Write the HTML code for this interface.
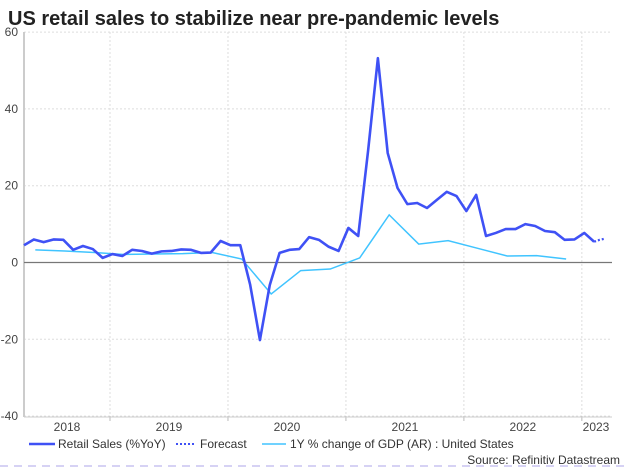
<!DOCTYPE html>
<html><head><meta charset="utf-8"><style>
body{margin:0;background:#fff;font-family:"Liberation Sans",Arial,sans-serif}
svg{display:block}
</style></head><body>
<svg width="624" height="467" viewBox="0 0 624 467">
<text x="8" y="25" font-size="20" font-weight="bold" fill="#222">US retail sales to stabilize near pre-pandemic levels</text>
<g id="grid"></g>
<g id="axes"></g>
<g id="series"></g>
<g>
<line x1="29" y1="444" x2="55" y2="444" stroke="#3f51f5" stroke-width="2.5"/>
<text x="58" y="448" font-size="12" fill="#333">Retail Sales (%YoY)</text>
<line x1="176" y1="444" x2="196" y2="444" stroke="#3f51f5" stroke-width="2" stroke-dasharray="2,2"/>
<text x="200" y="448" font-size="12" fill="#333">Forecast</text>
<line x1="262" y1="444" x2="286" y2="444" stroke="#40c4ff" stroke-width="1.5"/>
<text x="290" y="448" font-size="12" fill="#333">1Y % change of GDP (AR) : United States</text>
</g>
<text x="620" y="464" font-size="12" fill="#333" text-anchor="end">Source: Refinitiv Datastream</text>
<line x1="0" y1="466" x2="624" y2="466" stroke="#c8c3f0" stroke-width="1.5" stroke-dasharray="8,6"/>
</svg>
<script>
const retail=[4.5,6.0,5.3,6.0,5.9,3.3,4.3,3.5,1.2,2.2,1.7,3.3,3.0,2.3,2.9,3.0,3.4,3.3,2.5,2.6,5.6,4.5,4.5,-5.7,-20.2,-5.9,2.5,3.3,3.5,6.6,5.9,4.1,3.0,9.0,6.9,29,53.2,28.5,19.4,15.2,15.5,14.2,16.3,18.4,17.3,13.4,17.6,6.9,7.7,8.7,8.7,10.0,9.5,8.2,7.9,5.9,6.0,7.7,5.4];
const forecast=[5.4,5.9,6.2];
const gdp=[3.3,3.0,2.6,2.1,2.2,2.3,2.6,0.9,-8.2,-2.1,-1.7,1.2,12.4,4.8,5.7,3.7,1.7,1.8,0.9];
const yTicks=[60,40,20,0,-20,-40];
const years=["2018","2019","2020","2021","2022","2023"];
const NS="http://www.w3.org/2000/svg";
function x(i){return 24+i*9.83;}
function y(v){return 262.5-v*3.84;}
function mk(tag,attrs,parent){const e=document.createElementNS(NS,tag);for(const k in attrs)e.setAttribute(k,attrs[k]);parent.appendChild(e);return e;}
const grid=document.getElementById('grid'),axes=document.getElementById('axes'),ser=document.getElementById('series');
yTicks.forEach(t=>{
 if(t!==0){const l=mk('line',{x1:24,x2:612,y1:y(t),y2:y(t),stroke:'#ddd','stroke-dasharray':'2,2'},grid);
 
 }
 const tx=mk('text',{x:18,y:y(t)+4,'font-size':12,fill:'#444','text-anchor':'end'},axes);tx.textContent=t;
 
 
});
years.forEach((yr,k)=>{
 const start=k===0?x(0):x(8.75+12*(k-1));
 const end=x(8.75+12*k);
 if(k<5){const l=mk('line',{x1:end,x2:end,y1:32,y2:416,stroke:'#ddd','stroke-dasharray':'2,2'},grid);
 
 
 mk('line',{x1:end,x2:end,y1:416,y2:421,stroke:'#bbb'},axes);}
 const cx=k<5?(start+end)/2:596;
 const tx=mk('text',{x:cx,y:431,'font-size':12,fill:'#444','text-anchor':'middle'},axes);tx.textContent=yr;
 
 
});
mk('line',{x1:24,x2:24,y1:32,y2:417,stroke:'#ccc','stroke-width':2},axes);
mk('line',{x1:24,x2:612,y1:417,y2:417,stroke:'#ccc','stroke-width':1},axes);
const z=mk('line',{x1:24,x2:612,y1:y(0),y2:y(0),stroke:'#777','stroke-width':1.2},axes);


const g=mk('polyline',{points:gdp.map((v,q)=>x(1.15+3*q)+','+y(v)).join(' '),fill:'none',stroke:'#40c4ff','stroke-width':1.5},ser);


const r=mk('polyline',{points:retail.map((v,i)=>x(i)+','+y(v)).join(' '),fill:'none',stroke:'#3f51f5','stroke-width':2.6,'stroke-linejoin':'round'},ser);


const f=mk('polyline',{points:forecast.map((v,i)=>x(retail.length-1+i*0.55)+','+y(v)).join(' '),fill:'none',stroke:'#3f51f5','stroke-width':2.2,'stroke-dasharray':'2,2'},ser);


</script>
</body></html>
